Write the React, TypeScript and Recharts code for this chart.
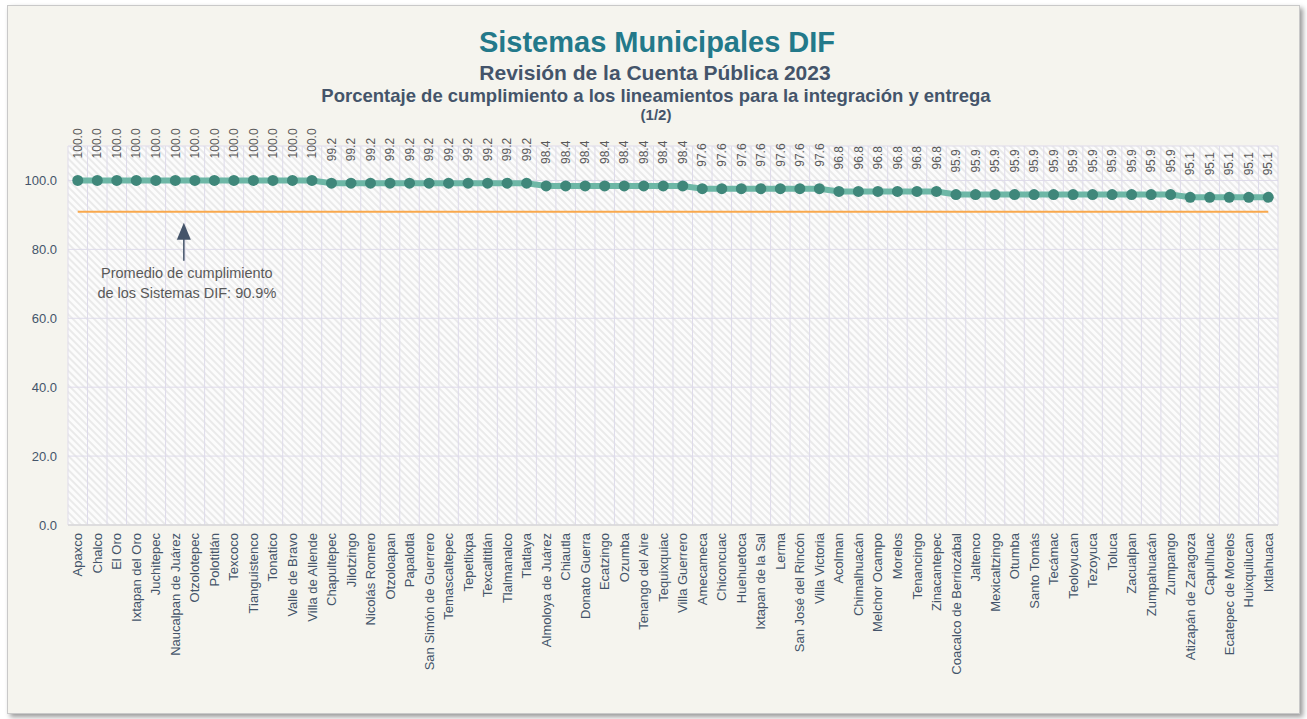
import React from 'react';
import {
    LineChart,
    Line,
    XAxis,
    YAxis,
    CartesianGrid,
    LabelList,
    ReferenceDot,
} from 'recharts';

const municipios = [
    'Apaxco', 'Chalco', 'El Oro', 'Ixtapan del Oro', 'Juchitepec', 'Naucalpan de Juárez',
    'Otzolotepec', 'Polotitlán', 'Texcoco', 'Tianguistenco', 'Tonatico', 'Valle de Bravo',
    'Villa de Allende', 'Chapultepec', 'Jilotzingo', 'Nicolás Romero', 'Otzoloapan', 'Papalotla',
    'San Simón de Guerrero', 'Temascaltepec', 'Tepetlixpa', 'Texcaltitlán', 'Tlalmanalco',
    'Tlatlaya', 'Almoloya de Juárez', 'Chiautla', 'Donato Guerra', 'Ecatzingo', 'Ozumba',
    'Tenango del Aire', 'Tequixquiac', 'Villa Guerrero', 'Amecameca', 'Chiconcuac', 'Huehuetoca',
    'Ixtapan de la Sal', 'Lerma', 'San José del Rincón', 'Villa Victoria', 'Acolman',
    'Chimalhuacán', 'Melchor Ocampo', 'Morelos', 'Tenancingo', 'Zinacantepec',
    'Coacalco de Berriozábal', 'Jaltenco', 'Mexicaltzingo', 'Otumba', 'Santo Tomás', 'Tecámac',
    'Teoloyucan', 'Tezoyuca', 'Toluca', 'Zacualpan', 'Zumpahuacán', 'Zumpango',
    'Atizapán de Zaragoza', 'Capulhuac', 'Ecatepec de Morelos', 'Huixquilucan', 'Ixtlahuaca',
];

const cumplimiento = [
    100.0, 100.0, 100.0, 100.0, 100.0, 100.0, 100.0, 100.0, 100.0, 100.0, 100.0, 100.0, 100.0,
    99.2, 99.2, 99.2, 99.2, 99.2, 99.2, 99.2, 99.2, 99.2, 99.2, 99.2,
    98.4, 98.4, 98.4, 98.4, 98.4, 98.4, 98.4, 98.4,
    97.6, 97.6, 97.6, 97.6, 97.6, 97.6, 97.6,
    96.8, 96.8, 96.8, 96.8, 96.8, 96.8,
    95.9, 95.9, 95.9, 95.9, 95.9, 95.9, 95.9, 95.9, 95.9, 95.9, 95.9, 95.9,
    95.1, 95.1, 95.1, 95.1, 95.1,
];

const PROMEDIO = 90.9;
const yTicks = [0, 20, 40, 60, 80, 100];

const data = municipios.map((nombre, i) => ({
    nombre,
    valor: cumplimiento[i],
    promedio: PROMEDIO,
}));

const FONT = '"Liberation Sans", Arial, sans-serif';
const AXIS_COLOR = '#44546a';

const XTick = ({ x, y, payload }: any) => (
    <g transform={`translate(${x},${y})`}>
        <text
            transform="rotate(-90)"
            x={0}
            y={0}
            dy="0.35em"
            textAnchor="end"
            fontSize={13}
            fontFamily={FONT}
            fill={AXIS_COLOR}
        >
            {payload.value}
        </text>
    </g>
);

const ValueLabel = ({ x, y, value }: any) => {
    const ly = y - 22;
    return (
        <text
            x={x}
            y={ly}
            transform={`rotate(-90, ${x}, ${ly})`}
            textAnchor="start"
            dy="0.35em"
            fontSize={12}
            fontFamily={FONT}
            fill="#595959"
        >
            {Number(value).toFixed(1)}
        </text>
    );
};

const Annotation = ({ cx, cy }: any) => {
    const ax = cx + 8.5;
    const tx = cx + 11.5;
    return (
        <g>
            <line x1={ax} y1={cy + 26} x2={ax} y2={cy + 49} stroke="#44546a" strokeWidth={1.5} />
            <polygon
                points={`${ax},${cy + 11} ${ax - 7},${cy + 28} ${ax + 7},${cy + 28}`}
                fill="#44546a"
            />
            <text x={tx} y={cy + 61} textAnchor="middle" dy="0.35em" fontSize={14.5} fontFamily={FONT} fill="#595959">
                Promedio de cumplimiento
            </text>
            <text x={tx} y={cy + 81} textAnchor="middle" dy="0.35em" fontSize={14.5} fontFamily={FONT} fill="#595959">
                de los Sistemas DIF: 90.9%
            </text>
        </g>
    );
};

const gridColumns = ({ offset }: any) =>
    Array.from({ length: municipios.length + 1 }, (_, i) => offset.left + (i * offset.width) / municipios.length);

const App = () => {
    return (
        <div style={{ position: 'absolute', left: 0, top: 0, width: 1307, height: 719, background: '#ffffff' }}>
            <div
                style={{
                    position: 'absolute',
                    left: 7,
                    top: 5,
                    width: 1291,
                    height: 707,
                    background: '#f5f4ee',
                    border: '1px solid #c9c9c9',
                    boxShadow: '3px 3px 5px rgba(0,0,0,0.4)',
                }}
            />
            <div style={{ position: 'absolute', left: 0, top: 0, fontFamily: FONT }}>
                <LineChart
                    width={1307}
                    height={719}
                    data={data}
                    margin={{ top: 146, right: 29, bottom: 0, left: 0 }}
                >
                    <defs>
                        <pattern
                            id="hatch"
                            patternUnits="userSpaceOnUse"
                            width={5}
                            height={5}
                            patternTransform="rotate(-45)"
                        >
                            <rect width={5} height={5} fill="#fcfcfc" />
                            <rect width={2} height={5} fill="#eaeaea" />
                        </pattern>
                    </defs>
                    <text x={657} y={42} textAnchor="middle" dy="0.35em" fontSize={29} fontWeight="bold" fontFamily={FONT} fill="#23798a">
                        Sistemas Municipales DIF
                    </text>
                    <text x={655} y={73} textAnchor="middle" dy="0.35em" fontSize={21} fontWeight="bold" fontFamily={FONT} fill={AXIS_COLOR}>
                        Revisión de la Cuenta Pública 2023
                    </text>
                    <text x={656} y={96} textAnchor="middle" dy="0.35em" fontSize={18.5} fontWeight="bold" fontFamily={FONT} fill={AXIS_COLOR}>
                        Porcentaje de cumplimiento a los lineamientos para la integración y entrega
                    </text>
                    <text x={656} y={115} textAnchor="middle" dy="0.35em" fontSize={15} fontWeight="bold" fontFamily={FONT} fill={AXIS_COLOR}>
                        (1/2)
                    </text>
                    <CartesianGrid
                        fill="url(#hatch)"
                        fillOpacity={1}
                        stroke="#dedbea"
                        strokeWidth={1}
                        verticalCoordinatesGenerator={gridColumns}
                    />
                    <XAxis
                        dataKey="nombre"
                        scale="band"
                        interval={0}
                        height={194}
                        tick={<XTick />}
                        tickLine={false}
                        axisLine={{ stroke: '#d9d9d9', strokeWidth: 1.5 }}
                    />
                    <YAxis
                        width={68}
                        domain={[0, 110]}
                        ticks={yTicks}
                        tickFormatter={(v: number) => v.toFixed(1)}
                        tick={{ fill: AXIS_COLOR, fontSize: 13, fontFamily: FONT }}
                        tickLine={false}
                        axisLine={false}
                        tickMargin={5}
                    />
                    <Line
                        dataKey="promedio"
                        stroke="#f9a84c"
                        strokeWidth={2}
                        dot={false}
                        activeDot={false}
                        isAnimationActive={false}
                    />
                    <Line
                        dataKey="valor"
                        stroke="#6db7a6"
                        strokeWidth={6}
                        dot={{ r: 5.5, fill: '#3f877a', stroke: '#3f877a', strokeWidth: 0 }}
                        activeDot={false}
                        isAnimationActive={false}
                    >
                        <LabelList dataKey="valor" content={<ValueLabel />} />
                    </Line>
                    <ReferenceDot
                        x="Naucalpan de Juárez"
                        y={PROMEDIO}
                        shape={<Annotation />}
                    />
                </LineChart>
            </div>
        </div>
    );
};

export default App;
